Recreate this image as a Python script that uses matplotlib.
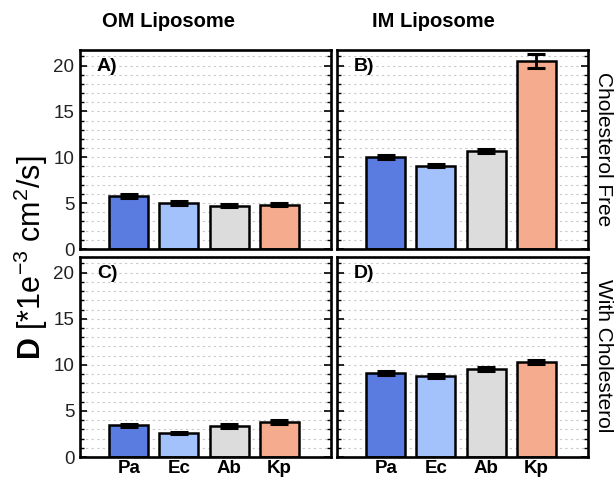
import matplotlib
matplotlib.use("Agg")
import matplotlib.pyplot as plt
from matplotlib.ticker import MultipleLocator

plt.rcParams['font.family'] = ['Liberation Sans', 'DejaVu Sans']
plt.rcParams['mathtext.fontset'] = 'custom'
plt.rcParams['mathtext.rm'] = 'Liberation Sans'
plt.rcParams['mathtext.it'] = 'Liberation Sans:italic'
plt.rcParams['mathtext.bf'] = 'Liberation Sans:bold'

categories = ["Pa", "Ec", "Ab", "Kp"]
colors = ["#5a7be0", "#a3c2fb", "#dcdcdc", "#f5ab8d"]

om_free = [5.78, 5.04, 4.74, 4.85]
om_free_err = [0.22, 0.2, 0.2, 0.2]
im_free = [10.07, 9.10, 10.70, 20.50]
im_free_err = [0.22, 0.2, 0.22, 0.75]
om_chol = [3.45, 2.60, 3.35, 3.80]
om_chol_err = [0.18, 0.15, 0.18, 0.2]
im_chol = [9.15, 8.80, 9.50, 10.30]
im_chol_err = [0.22, 0.22, 0.22, 0.25]

panel_letters = ["A)", "B)", "C)", "D)"]
col_titles = ["OM Liposome", "IM Liposome"]
row_titles = ["Cholesterol Free", "With Cholesterol"]
ylabel = r"$\mathbf{D}$ [*1e$^{-3}$ cm$^{2}$/s]"

W, H = 614, 483
fig = plt.figure(figsize=(W / 100, H / 100), dpi=100)

def rect(l, t, r, b):
    return [l / W, 1 - b / H, (r - l) / W, (b - t) / H]

boxes = [rect(80, 50, 331, 249), rect(337, 50, 588, 249),
         rect(80, 257, 331, 457), rect(337, 257, 588, 457)]
data = [(om_free, om_free_err), (im_free, im_free_err),
        (om_chol, om_chol_err), (im_chol, im_chol_err)]

x = list(range(len(categories)))
for i, (box, (vals, errs)) in enumerate(zip(boxes, data)):
    ax = fig.add_axes(box)
    ax.set_axisbelow(True)
    ax.bar(x, vals, width=0.78, color=colors, edgecolor="black", linewidth=1.8, zorder=2)
    ax.errorbar(x, vals, yerr=errs, fmt="none", ecolor="black", elinewidth=2.0,
                capsize=6.5, capthick=2.2, zorder=3)
    ax.set_xlim(-0.97, 4.03)
    ax.set_ylim(0, 21.7)
    ax.yaxis.set_major_locator(MultipleLocator(5))
    ax.yaxis.set_minor_locator(MultipleLocator(1))
    ax.grid(axis="y", which="both", color="#c8c8c8", linestyle=(0, (2, 3)), linewidth=0.8)
    ax.tick_params(axis="y", which="major", direction="in", left=True, right=True,
                   length=5, width=1.2, labelsize=13.5, pad=4, labelcolor="#222222")
    ax.tick_params(axis="y", which="minor", direction="in", left=True, right=True,
                   length=3, width=1.0)
    for s in ax.spines.values():
        s.set_linewidth(1.9)
    if i % 2 == 1:
        ax.tick_params(axis="y", labelleft=False)
    ax.set_xticks(x)
    if i >= 2:
        ax.set_xticklabels(categories, fontsize=13.5, fontweight="bold")
        ax.tick_params(axis="x", length=0, pad=2)
    else:
        ax.tick_params(axis="x", length=0, labelbottom=False)
    ax.text(17 / 251, 1 - 8 / 199, panel_letters[i], transform=ax.transAxes,
            fontsize=14, fontweight="bold", ha="left", va="top")

fig.text(102 / W, 1 - 27 / H, col_titles[0], fontsize=14.5, fontweight="bold",
         ha="left", va="baseline")
fig.text(372 / W, 1 - 27 / H, col_titles[1], fontsize=14.5, fontweight="bold",
         ha="left", va="baseline")
fig.text(603 / W, 1 - 149 / H, row_titles[0], fontsize=15, rotation=-90,
         ha="center", va="center")
fig.text(603 / W, 1 - 356 / H, row_titles[1], fontsize=15, rotation=-90,
         ha="center", va="center")
fig.text(31 / W, 1 - 258 / H, ylabel, fontsize=22, rotation=90,
         ha="center", va="center")

fig.savefig("out.png", dpi=100)
